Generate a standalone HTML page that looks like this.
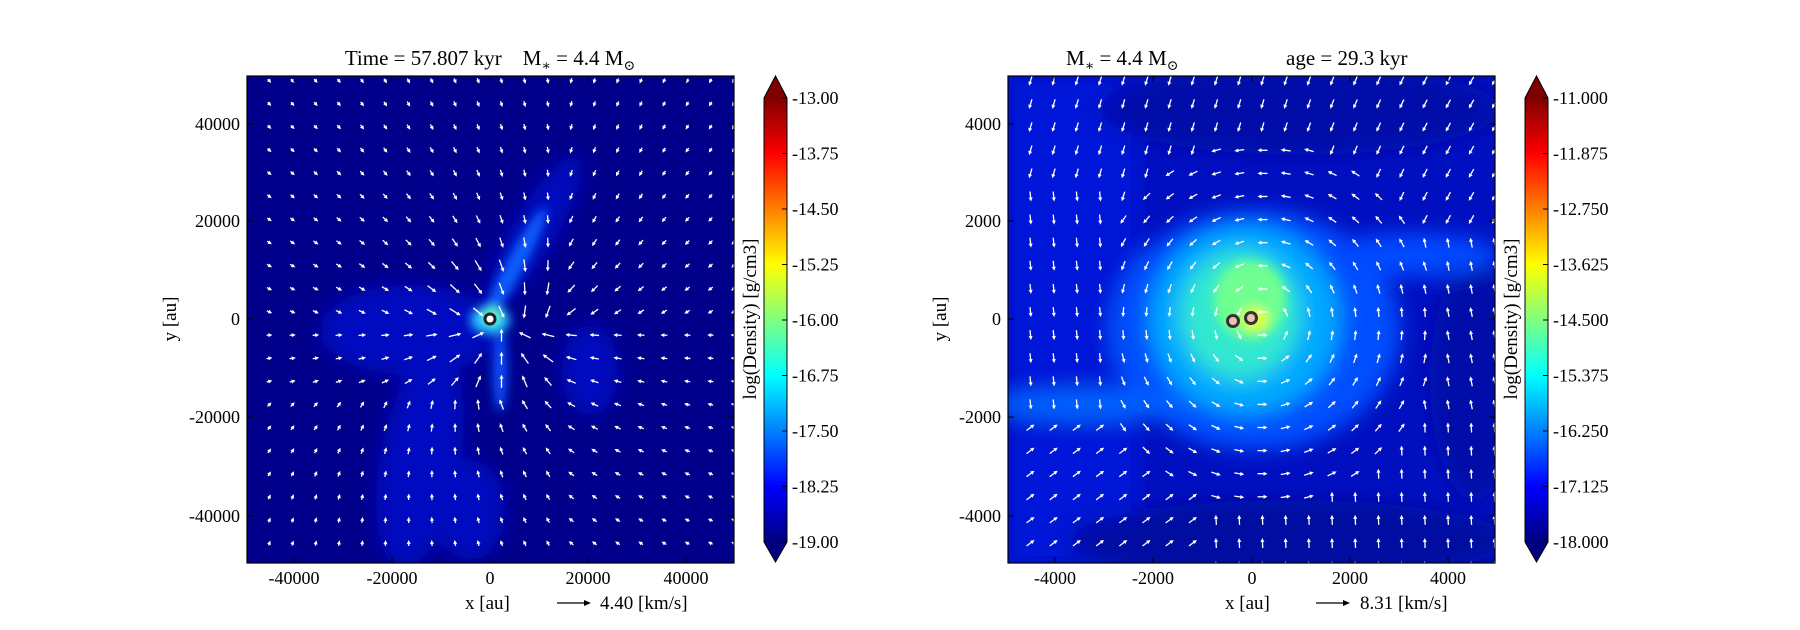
<!DOCTYPE html>
<html><head><meta charset="utf-8"><style>
html,body{margin:0;padding:0;background:#fff;width:1800px;height:630px;overflow:hidden}
svg{display:block}
text{font-family:"Liberation Serif","DejaVu Serif",serif;fill:#000}
</style></head><body>
<svg id="s" width="1800" height="630" viewBox="0 0 1800 630" xmlns="http://www.w3.org/2000/svg">
<defs>
<linearGradient id="jet" x1="0" y1="1" x2="0" y2="0">
<stop offset="0" stop-color="#00007f"/><stop offset="0.125" stop-color="#0000ff"/>
<stop offset="0.375" stop-color="#00ffff"/><stop offset="0.5" stop-color="#7fff7f"/><stop offset="0.625" stop-color="#ffff00"/>
<stop offset="0.875" stop-color="#ff0000"/><stop offset="1" stop-color="#7f0000"/>
</linearGradient>
<filter id="b1" x="-50%" y="-50%" width="200%" height="200%"><feGaussianBlur stdDeviation="10"/></filter>
<filter id="b2" x="-50%" y="-50%" width="200%" height="200%"><feGaussianBlur stdDeviation="5"/></filter>
<clipPath id="c1"><rect x="247" y="76" width="487" height="487"/></clipPath>
<clipPath id="c2"><rect x="1008" y="76" width="487" height="487"/></clipPath>
</defs>
<!-- left map -->
<rect x="247" y="76" width="487" height="487" fill="#00008a"/>
<g clip-path="url(#c1)">
<g filter="url(#b1)" fill="#0010c8" opacity="0.9">
<ellipse cx="410" cy="330" rx="90" ry="45"/>
<ellipse cx="420" cy="460" rx="40" ry="110" transform="rotate(10 420 460)"/>
<ellipse cx="535" cy="230" rx="22" ry="85" transform="rotate(30 535 230)"/>
<ellipse cx="590" cy="370" rx="28" ry="45"/>
<ellipse cx="470" cy="510" rx="35" ry="50"/>
</g>
<g filter="url(#b2)">
<ellipse cx="515" cy="265" rx="9" ry="65" transform="rotate(28 515 265)" fill="#1060ff"/>
<ellipse cx="500" cy="370" rx="7" ry="42" fill="#0850ff"/>
<ellipse cx="490" cy="320" rx="20" ry="14" fill="#20c0ff"/>
<ellipse cx="492" cy="316" rx="9" ry="9" fill="#60ffb0"/>
</g>
<g id="a1"></g>
</g>
<rect x="247" y="76" width="487" height="487" fill="none" stroke="#000" stroke-width="1.2"/>
<circle cx="490" cy="319" r="5" fill="#fff" stroke="#222" stroke-width="3"/>
<!-- right map -->
<rect x="1008" y="76" width="487" height="487" fill="#0010c0"/>
<g clip-path="url(#c2)">
<g filter="url(#b1)">
<rect x="1008" y="76" width="130" height="487" fill="#0018d8"/>
<ellipse cx="1300" cy="110" rx="200" ry="45" fill="#0008a8"/>
<ellipse cx="1290" cy="540" rx="220" ry="40" fill="#0008a0"/>
<ellipse cx="1475" cy="380" rx="45" ry="120" fill="#000ca8"/>
<ellipse cx="1255" cy="330" rx="145" ry="120" fill="#0050ff"/>
<ellipse cx="1090" cy="405" rx="100" ry="16" fill="#0060ff"/>
<ellipse cx="1410" cy="255" rx="90" ry="22" fill="#0048ff"/>
<ellipse cx="1245" cy="320" rx="95" ry="95" fill="#00a8ff"/>
<ellipse cx="1240" cy="315" rx="60" ry="65" fill="#30e8d0"/>
</g>
<g filter="url(#b2)">
<ellipse cx="1250" cy="300" rx="36" ry="40" fill="#70ff90"/>
<ellipse cx="1255" cy="319" rx="14" ry="12" fill="#e0ff40"/>
</g>
<g id="a2"></g>
</g>
<rect x="1008" y="76" width="487" height="487" fill="none" stroke="#000" stroke-width="1.2"/>
<circle cx="1233" cy="321" r="5.5" fill="#f0c0b0" stroke="#333" stroke-width="3"/>
<circle cx="1251" cy="318" r="5.5" fill="#f0c0b0" stroke="#333" stroke-width="3"/>
<g id="cb1"></g><g id="cb2"></g>
<g id="ticks"></g>
<text x="490" y="65" font-size="21" text-anchor="middle">Time = 57.807 kyr &#160;&#160; M<tspan font-size="14" dy="5">∗</tspan><tspan dy="-5"> = 4.4 M</tspan><tspan font-size="14" dy="5">⊙</tspan></text>
<text x="1066" y="65" font-size="21">M<tspan font-size="14" dy="5">∗</tspan><tspan dy="-5"> = 4.4 M</tspan><tspan font-size="14" dy="5">⊙</tspan></text>
<text x="1286" y="65" font-size="21">age = 29.3 kyr</text>
<text x="465" y="609" font-size="19">x [au]</text>
<text x="600" y="609" font-size="19">4.40 [km/s]</text>
<line x1="557" y1="603" x2="588" y2="603" stroke="#000" stroke-width="1.3"/><polygon points="591,603 584,600 584,606" fill="#000"/>
<text x="1225" y="609" font-size="19">x [au]</text>
<text x="1360" y="609" font-size="19">8.31 [km/s]</text>
<line x1="1316" y1="603" x2="1347" y2="603" stroke="#000" stroke-width="1.3"/><polygon points="1350,603 1343,600 1343,606" fill="#000"/>
<text transform="translate(176 319) rotate(-90)" font-size="19" text-anchor="middle">y [au]</text>
<text transform="translate(946 319) rotate(-90)" font-size="19" text-anchor="middle">y [au]</text>
<text transform="translate(756 319) rotate(-90)" font-size="19" text-anchor="middle">log(Density) [g/cm3]</text>
<text transform="translate(1517 319) rotate(-90)" font-size="19" text-anchor="middle">log(Density) [g/cm3]</text>
</svg>
<script>
var NS="http://www.w3.org/2000/svg";
function el(p,t,a,txt){var e=document.createElementNS(NS,t);for(var k in a)e.setAttribute(k,a[k]);if(txt!=null)e.textContent=txt;p.appendChild(e);return e;}
function arrows(g,x0,y0,field){
 for(var i=0;i<21;i++)for(var j=0;j<22;j++){
  var x=x0+22.5+i*23.2, y=y0+5+j*23.1;
  var v=field((i-10)/10,(j-10.5)/10.5), dx=v[0],dy=v[1];
  var L=Math.sqrt(dx*dx+dy*dy); if(L<0.01)continue;
  var ux=dx/L,uy=dy/L, hl=Math.min(4,L*0.5+1.5);
  var tx=x+dx/2,ty=y+dy/2, bx=x-dx/2,by=y-dy/2;
  el(g,"line",{x1:bx,y1:by,x2:tx-ux*hl*0.6,y2:ty-uy*hl*0.6,stroke:"#fff","stroke-width":1.3});
  var px=-uy,py=ux;
  el(g,"polygon",{points:tx+","+ty+" "+(tx-ux*hl+px*2)+","+(ty-uy*hl+py*2)+" "+(tx-ux*hl-px*2)+","+(ty-uy*hl-py*2),fill:"#fff"});
 }
}
arrows(document.getElementById("a1"),247,76,function(u,v){
 var r=Math.sqrt(u*u+v*v)+0.05;var s=Math.min(13,3/r+3);
 var dx=-u/r, dy=-v/r; if(v<0){dx+=0.5;dy+=0.6} if(u>0.2){dx-=0.6}
 if(v>0.3){dx-=0.4;dy-=0.2}
 var n=Math.sqrt(dx*dx+dy*dy)+1e-6; return [dx/n*s,dy/n*s];
});
arrows(document.getElementById("a2"),1008,76,function(u,v){
 var r=Math.sqrt(u*u+v*v)+0.05;
 var dx=v, dy=-u, s=10;
 if(r>0.8){
  if(v<-0.4){dx=-0.3-0.3*Math.max(0,u);dy=1}
  else if(v>0.4){ if(u<-0.2){dx=0.8;dy=-0.6}else{dx=-0.05;dy=-1} }
  else if(u>0){dx=-0.2;dy=-1} else {dx=0.05;dy=1}
 }
 if(u<-0.6&&v<0.4&&v>-0.6){dx=0.1;dy=1}
 var n=Math.sqrt(dx*dx+dy*dy)+1e-6; return [dx/n*s,dy/n*s];
});
function cbar(g,x,labels){
 var w=23,t=98,b=542;
 el(g,"rect",{x:x,y:t,width:w,height:b-t,fill:"url(#jet)"});
 el(g,"polygon",{points:x+","+t+" "+(x+w/2)+",76 "+(x+w)+","+t,fill:"#7f0000"});
 el(g,"polygon",{points:x+","+b+" "+(x+w/2)+",562 "+(x+w)+","+b,fill:"#00007f"});
 el(g,"polygon",{points:x+","+t+" "+(x+w/2)+",76 "+(x+w)+","+t+" "+(x+w)+","+b+" "+(x+w/2)+",562 "+x+","+b,fill:"none",stroke:"#000","stroke-width":1});
 for(var k=0;k<9;k++){var yy=t+(b-t)*k/8;
  el(g,"line",{x1:x+w-5,y1:yy,x2:x+w,y2:yy,stroke:"#000"});
  el(g,"text",{x:x+w+5,y:yy+6,"font-size":18},labels[k]);}
}
cbar(document.getElementById("cb1"),764,["-13.00","-13.75","-14.50","-15.25","-16.00","-16.75","-17.50","-18.25","-19.00"]);
cbar(document.getElementById("cb2"),1525,["-11.000","-11.875","-12.750","-13.625","-14.500","-15.375","-16.250","-17.125","-18.000"]);
var T=document.getElementById("ticks");
function axes(x0,labs,xs,ys){
 for(var k=0;k<5;k++){
  el(T,"line",{x1:xs[k],y1:563,x2:xs[k],y2:557,stroke:"#000"});
  el(T,"line",{x1:xs[k],y1:76,x2:xs[k],y2:82,stroke:"#000"});
  el(T,"text",{x:xs[k],y:584,"font-size":18,"text-anchor":"middle"},labs[k]);
  el(T,"line",{x1:x0,y1:ys[k],x2:x0+6,y2:ys[k],stroke:"#000"});
  el(T,"line",{x1:x0+487,y1:ys[k],x2:x0+481,y2:ys[k],stroke:"#000"});
  el(T,"text",{x:x0-7,y:ys[k]+6,"font-size":18,"text-anchor":"end"},labs[4-k]);
 }
}
axes(247,["-40000","-20000","0","20000","40000"],[294,392,490,588,686],[124,221,319,417,516]);
axes(1008,["-4000","-2000","0","2000","4000"],[1055,1153,1252,1350,1448],[124,221,319,417,516]);
</script>
</body></html>
